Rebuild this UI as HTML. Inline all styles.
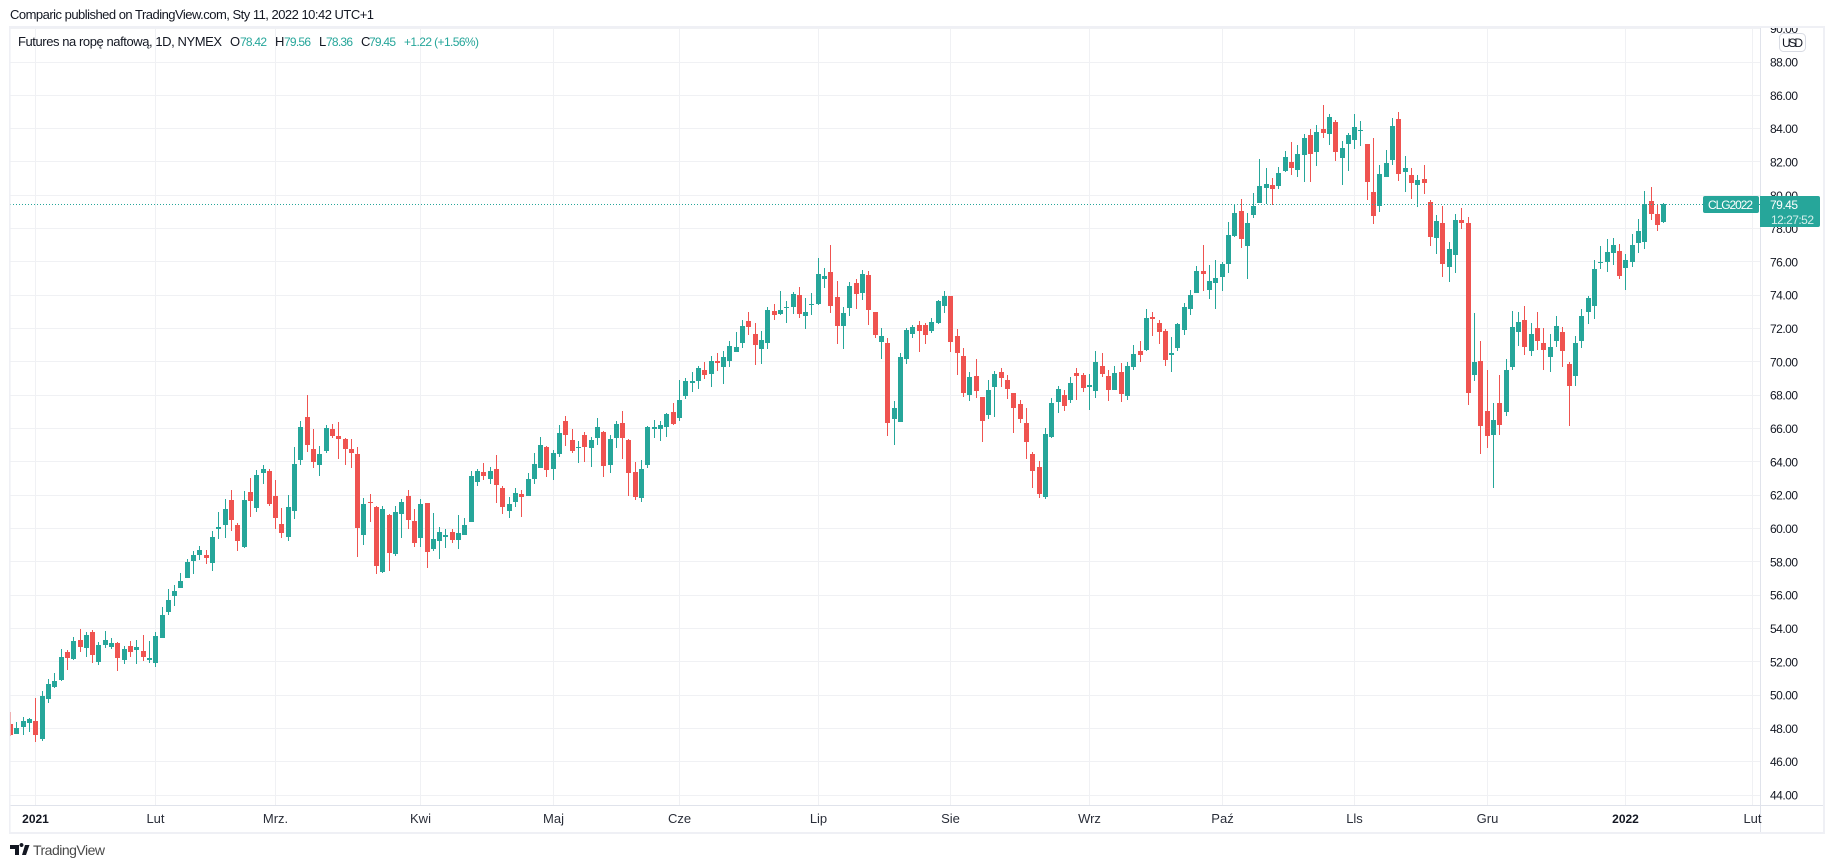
<!DOCTYPE html>
<html lang="pl">
<head>
<meta charset="utf-8">
<title>Futures na ropę naftową, 1D, NYMEX</title>
<style>
html,body{margin:0;padding:0;background:#fff;width:1834px;height:868px;overflow:hidden}
svg{display:block;font-family:"Liberation Sans","DejaVu Sans",sans-serif}
text{white-space:pre}
</style>
</head>
<body>
<svg id="chart" xmlns="http://www.w3.org/2000/svg" width="1834" height="868" viewBox="0 0 1834 868">
  <defs>
    <clipPath id="plot-clip"><rect x="10" y="28" width="1750" height="777"/></clipPath>
    <clipPath id="axis-clip"><rect x="1761" y="28" width="62" height="777"/></clipPath>
  </defs>
  <rect x="0" y="0" width="1834" height="868" fill="#ffffff"/>
  <text x="10" y="19" font-size="13" fill="#131722" textLength="364">Comparic published on TradingView.com, Sty 11, 2022 10:42 UTC+1</text>
  <g id="grid" clip-path="url(#plot-clip)"></g>
  <g id="candles" clip-path="url(#plot-clip)"></g>
  <line id="last-line" x1="10" x2="1760" stroke="#26a69a" stroke-width="1" stroke-dasharray="1 2"/>
  <rect x="1760" y="28" width="1" height="804" fill="#e0e3eb"/>
  <rect x="10" y="805" width="1813" height="1" fill="#e0e3eb"/>
  <g id="price-axis" clip-path="url(#axis-clip)"></g>
  <g id="time-axis"></g>
  <g fill="#eff0f5">
    <rect x="9" y="26" width="1815" height="2"/>
    <rect x="9" y="26" width="1" height="808"/>
    <rect x="10" y="26" width="1" height="808" fill-opacity="0.6"/>
    <rect x="1823" y="26" width="2" height="808"/>
    <rect x="9" y="832" width="1816" height="2"/>
  </g>
  <g font-size="13">
    <text x="18" y="46" fill="#131722" textLength="204">Futures na ropę naftową, 1D, NYMEX</text>
    <text x="230" y="46" fill="#131722">O</text>
    <text x="240" y="46" font-size="12" fill="#26a69a" textLength="27">78.42</text>
    <text x="275" y="46" fill="#131722">H</text>
    <text x="284" y="46" font-size="12" fill="#26a69a" textLength="27">79.56</text>
    <text x="319" y="46" fill="#131722">L</text>
    <text x="326" y="46" font-size="12" fill="#26a69a" textLength="27">78.36</text>
    <text x="361" y="46" fill="#131722">C</text>
    <text x="369" y="46" font-size="12" fill="#26a69a" textLength="27">79.45</text>
    <text x="404" y="46" font-size="12" fill="#26a69a" textLength="75">+1.22 (+1.56%)</text>
  </g>
  <g>
    <rect x="1779.5" y="33.5" width="26" height="18" rx="4" fill="#ffffff" stroke="#d8dbe3"/>
    <text x="1792.5" y="47" font-size="12" fill="#131722" text-anchor="middle" textLength="21">USD</text>
  </g>
  <g>
    <rect x="1703" y="196" width="56" height="17" rx="2" fill="#26a69a"/>
    <text x="1708" y="209" font-size="12" fill="#ffffff" textLength="45">CLG2022</text>
    <path d="M1760 196H1818a2 2 0 0 1 2 2V225a2 2 0 0 1-2 2H1760Z" fill="#26a69a"/>
    <text x="1770" y="209" font-size="12" fill="#ffffff" textLength="28">79.45</text>
    <text x="1771" y="224" font-size="12" fill="#d4eeeb" textLength="43">12:27:52</text>
  </g>
  <g>
    <path d="M10 845H19V855H15V849H10ZM24 855 L27 845H29.5L26 855ZM19.5 845a2 2 0 1 1 0 .01ZM22 855 L25 845H27L24 855Z" fill="#131722"/>
    <text x="33" y="855" font-size="14" fill="#4a4a4a" textLength="72">TradingView</text>
  </g>
</svg>
<script>
const opens = [
48.27,47.67,48.09,48.33,48.45,47.37,49.77,50.49,50.91,52.59,
52.17,53.31,52.83,53.79,51.99,53.01,52.89,53.13,52.11,52.95,
52.71,52.65,52.11,51.93,53.43,54.99,55.95,56.43,57.03,58.05,
58.41,58.41,57.93,59.97,60.21,61.71,60.21,58.89,62.19,61.23,
63.33,63.45,61.95,60.27,59.49,61.05,64.11,66.69,64.77,63.81,
64.65,65.97,65.55,65.37,64.77,64.47,59.61,61.59,61.29,57.39,
60.81,58.47,60.87,61.95,60.45,59.43,61.53,58.77,59.25,59.49,
59.79,59.31,59.61,60.39,62.79,63.39,62.97,63.57,62.43,61.05,
61.59,62.07,61.95,62.97,63.63,64.89,63.57,64.47,66.45,65.31,
64.83,65.61,64.83,65.43,65.79,63.81,65.43,66.33,65.31,63.39,
61.83,63.81,65.97,65.97,66.09,66.99,66.63,67.95,68.73,68.85,
69.51,69.27,70.05,69.70,70.06,70.60,71.14,72.46,71.68,70.78,
71.14,73.06,72.88,73.24,73.30,74.02,72.76,73.42,73.48,74.98,
75.40,73.90,72.16,73.24,74.74,74.14,75.22,73.00,71.20,71.14,
66.58,66.40,70.18,71.68,72.22,72.22,71.86,72.34,73.36,73.96,
71.56,70.36,68.02,69.16,67.90,66.82,68.50,69.40,68.92,68.14,
67.48,66.34,64.48,63.70,61.90,65.50,67.60,68.02,67.72,69.34,
69.22,68.50,68.26,69.76,69.16,68.32,69.40,67.96,69.70,70.66,
70.72,72.70,72.34,71.86,70.42,70.84,71.92,73.18,74.14,75.46,
74.32,74.74,75.10,75.88,77.56,79.06,76.96,78.82,79.54,80.44,
80.62,80.56,81.46,82.00,81.52,82.42,83.62,82.60,83.98,83.68,
84.40,82.24,83.08,83.32,83.86,83.08,80.20,79.36,81.10,82.12,
84.58,81.40,81.22,80.62,80.98,79.60,77.44,78.34,75.70,76.42,
78.52,78.34,69.22,70.06,67.06,65.62,67.54,67.00,69.70,71.80,
72.52,70.66,72.04,71.14,70.30,71.26,71.80,69.88,69.16,71.26,
73.00,73.36,75.94,76.00,76.54,76.66,75.64,76.00,77.14,77.20,
79.66,78.88,78.42];
const highs = [
48.99,48.39,48.69,48.63,49.83,50.25,50.97,51.33,52.77,52.71,
53.49,53.97,53.79,53.91,53.19,53.85,53.43,53.19,52.95,53.25,
53.31,53.61,53.25,53.79,55.29,56.37,56.61,57.33,58.17,58.65,
58.95,58.71,59.85,60.99,61.77,62.31,60.33,62.25,63.03,63.51,
63.81,63.57,62.91,61.23,62.01,64.89,66.45,68.01,65.97,64.95,
66.21,66.27,66.39,65.43,65.37,64.89,61.83,62.07,61.35,61.35,
60.87,61.35,61.77,62.31,61.17,61.77,61.53,60.93,60.09,59.97,
59.97,60.81,60.63,63.45,63.57,63.93,63.69,64.41,62.55,61.89,
62.43,62.31,63.33,64.53,65.49,64.95,64.71,66.21,66.75,65.97,
65.25,65.79,65.49,66.63,65.85,65.61,66.45,67.05,65.37,63.99,
64.11,66.15,66.51,66.45,66.93,67.53,68.91,69.03,69.39,69.75,
69.99,70.35,70.55,70.66,71.26,71.80,72.52,73.00,72.34,71.86,
73.30,73.48,74.26,73.66,74.20,74.50,73.84,74.14,76.24,75.64,
77.02,74.86,73.30,74.80,74.98,75.52,75.46,73.00,72.04,71.44,
67.66,70.54,72.04,72.22,72.46,72.34,72.64,73.72,74.26,73.96,
71.98,70.84,69.40,70.18,67.90,68.92,69.46,69.64,69.22,68.14,
67.72,67.24,64.60,64.06,66.04,67.84,68.56,68.32,69.10,69.64,
69.34,69.28,70.66,70.54,69.52,69.76,69.94,70.00,71.02,71.26,
73.18,73.00,72.52,71.98,71.50,72.34,73.54,74.32,75.76,77.00,
75.82,76.12,76.00,78.40,79.48,79.78,78.94,80.14,82.18,81.64,
81.04,81.70,82.66,83.20,83.02,83.68,83.98,84.22,85.42,84.88,
84.52,83.26,83.74,84.88,84.46,83.08,83.44,81.82,82.72,84.64,
85.00,82.36,81.64,81.22,81.82,79.72,78.82,79.36,77.20,78.88,
79.24,78.70,72.94,71.26,69.52,67.54,69.22,70.18,73.06,73.00,
73.36,72.34,73.00,72.04,71.68,72.76,72.10,70.00,71.56,73.18,
73.96,76.12,76.96,77.38,77.44,77.08,76.48,77.68,78.58,80.26,
80.50,79.42,79.56];
const lows = [
47.55,47.67,47.61,47.79,47.19,47.25,49.53,50.43,50.85,51.51,
52.11,52.59,52.29,51.93,51.81,52.83,52.77,51.45,51.87,52.29,
51.87,52.05,51.93,51.69,53.43,54.81,55.35,56.43,57.03,57.27,
58.11,57.87,57.45,59.37,59.43,59.85,58.65,58.83,60.69,60.99,
62.67,61.35,59.97,59.43,59.25,60.57,63.81,64.59,63.63,63.15,
64.53,65.43,64.17,63.81,63.63,58.29,59.01,60.39,57.27,57.33,
57.45,58.35,59.43,59.97,58.89,58.89,57.63,58.65,58.17,58.83,
59.13,58.77,59.61,60.39,62.55,62.91,62.67,61.53,60.87,60.63,
61.29,60.69,61.95,62.67,63.63,63.09,62.91,64.29,64.95,64.53,
63.93,63.99,63.69,65.01,63.09,63.33,64.83,64.17,61.95,61.71,
61.59,63.63,65.43,65.25,65.49,66.21,66.45,67.77,68.19,68.37,
68.97,68.49,69.45,68.68,69.70,70.60,70.84,71.62,69.82,69.88,
70.78,72.52,72.82,72.34,72.88,72.64,71.98,72.82,73.42,74.44,
72.94,71.08,70.78,72.76,73.18,73.72,72.22,71.44,70.18,65.56,
65.02,66.40,69.88,71.44,70.60,71.08,71.74,72.28,72.94,70.60,
69.22,67.90,67.66,67.84,65.20,66.58,66.70,68.50,67.78,65.74,
66.34,64.18,62.44,61.84,61.78,65.44,66.94,67.06,67.54,67.72,
68.20,67.12,67.84,69.10,67.66,68.32,67.60,67.72,69.52,70.00,
70.66,71.56,71.08,69.76,69.40,70.66,71.62,72.82,74.14,74.26,
73.78,73.18,74.26,75.34,77.50,76.84,74.98,78.64,79.54,79.48,
79.42,80.38,81.40,81.22,81.10,80.80,80.80,81.76,83.44,83.02,
82.06,80.62,81.46,82.78,82.96,79.72,78.28,79.00,81.10,81.82,
80.86,80.20,79.78,79.30,80.08,76.96,76.48,75.10,74.80,75.34,
77.98,67.42,68.86,64.48,64.84,62.44,65.62,66.76,69.52,70.96,
70.42,70.36,70.72,69.52,69.40,70.90,69.70,66.16,68.56,70.84,
72.28,72.58,75.58,75.40,75.82,74.98,74.32,75.70,76.54,76.78,
78.52,77.86,78.36];
const closes = [
47.61,48.03,48.45,48.57,47.61,49.95,50.67,50.85,52.29,52.23,
53.25,52.89,53.61,52.41,53.01,53.31,53.13,52.23,52.77,52.59,
52.89,52.29,52.23,53.55,54.81,55.71,56.25,56.85,57.99,58.41,
58.71,58.23,59.49,60.09,61.17,60.51,59.25,61.71,61.65,63.21,
63.57,61.47,60.63,59.73,61.29,63.87,66.09,65.01,63.99,64.47,
66.03,65.55,65.37,64.77,64.53,60.03,61.47,61.53,57.75,61.17,
58.53,60.99,61.59,60.51,59.13,61.47,58.59,59.37,59.79,59.61,
59.31,59.73,60.21,63.15,63.45,63.15,63.45,62.61,61.29,61.47,
62.13,61.89,62.97,63.87,65.01,63.51,64.53,65.73,65.61,64.65,
64.89,64.89,65.31,66.09,63.75,65.37,66.27,65.43,63.33,61.89,
63.57,66.09,66.09,66.21,66.87,66.27,67.71,68.85,68.85,69.63,
69.21,70.05,69.93,70.30,70.96,70.90,72.16,72.10,71.02,71.32,
73.12,72.82,73.12,73.30,74.08,72.88,73.00,73.48,75.28,75.16,
73.36,72.16,72.94,74.56,74.08,75.28,73.12,71.62,71.56,66.34,
67.24,70.30,71.92,72.10,71.86,71.62,72.40,73.66,73.96,71.20,
70.54,68.14,69.10,68.26,66.46,68.32,69.28,69.04,68.38,67.24,
66.58,65.20,63.46,62.08,65.68,67.54,68.38,67.36,68.74,69.16,
68.44,68.62,70.00,69.28,68.32,69.34,68.08,69.76,70.48,70.42,
72.64,72.58,71.80,70.12,70.54,72.28,73.30,74.02,75.46,75.28,
74.86,75.04,75.88,77.62,78.94,77.38,78.34,79.36,80.56,80.68,
80.38,81.34,82.30,81.64,82.48,83.44,82.48,83.80,83.74,84.70,
82.60,82.84,83.62,84.10,83.92,80.80,78.76,81.28,81.94,84.16,
81.28,81.64,80.74,80.92,80.74,77.50,78.46,75.88,76.78,78.52,
78.34,68.14,70.00,66.16,65.56,66.52,66.22,69.52,72.10,72.40,
70.90,71.68,71.26,70.72,70.90,72.16,70.66,68.56,71.14,72.76,
73.84,75.58,76.00,76.60,77.02,75.16,76.12,77.02,77.86,79.48,
78.88,78.22,79.45];
const priceTicks = [44,46,48,50,52,54,56,58,60,62,64,66,68,70,72,74,76,78,80,82,84,86,88,90];
const timeTickLabels = ['2021','Lut','Mrz.','Kwi','Maj','Cze','Lip','Sie','Wrz','Paź','Lls','Gru','2022','Lut'];
const timeTickBars = [4,23,42,65,86,106,128,149,171,192,213,234,256,276];
const lastPrice = 79.45;

const NS = 'http://www.w3.org/2000/svg';
const UP = '#26a69a';
const DOWN = '#ef5350';
function yScale(price){ return 62 + (88 - price) * 16.66; }
function xScale(bar){ return Math.floor(10.6 + 6.31 * bar); }

const gridGroup = document.getElementById('grid');
const candleGroup = document.getElementById('candles');
const priceAxis = document.getElementById('price-axis');
const timeAxis = document.getElementById('time-axis');

function makeRect(parent, x, y, w, h, fill){
  const r = document.createElementNS(NS, 'rect');
  r.setAttribute('x', x);
  r.setAttribute('y', y);
  r.setAttribute('width', w);
  r.setAttribute('height', h);
  r.setAttribute('fill', fill);
  parent.appendChild(r);
  return r;
}
function makeText(parent, x, y, str, size, fill){
  const t = document.createElementNS(NS, 'text');
  t.setAttribute('x', x);
  t.setAttribute('y', y);
  t.setAttribute('font-size', size);
  t.setAttribute('fill', fill);
  t.textContent = str;
  parent.appendChild(t);
  return t;
}

priceTicks.forEach(function(p){
  const yy = yScale(p);
  const line = makeRect(gridGroup, 10, Math.floor(yy), 1750, 1, '#f0f1f4');
  
  
  const label = makeText(priceAxis, 1770, yy + 4.5, p.toFixed(2), 12, '#131722');
  label.setAttribute('textLength', '28');
  
  
});

timeTickLabels.forEach(function(label, k){
  const xx = xScale(timeTickBars[k]);
  const line = makeRect(gridGroup, xx, 28, 1, 777, '#f0f1f4');
  
  
  const isYear = /^\d+$/.test(label);
  const t = makeText(timeAxis, xx + 0.5, 823, label, isYear ? 12 : 13, isYear ? '#131722' : '#2a2e39');
  t.setAttribute('text-anchor', 'middle');
  if (isYear) t.setAttribute('font-weight', '700');
  
  
});

opens.forEach(function(o, i){
  const c = closes[i];
  const color = c >= o ? UP : DOWN;
  const col = xScale(i);
  const wickTop = Math.round(yScale(highs[i]));
  const wickBot = Math.round(yScale(lows[i]));
  const wick = makeRect(candleGroup, col, wickTop, 1, Math.max(1, wickBot - wickTop), color);
  
  
  const bodyTop = Math.round(yScale(Math.max(o, c)));
  const bodyBot = Math.round(yScale(Math.min(o, c)));
  const body = makeRect(candleGroup, col - 2, bodyTop, 5, Math.max(1, bodyBot - bodyTop), color);
  
  
});

const lastLine = document.getElementById('last-line');
const lastY = Math.floor(yScale(lastPrice)) + 0.5;
lastLine.setAttribute('y1', lastY);
lastLine.setAttribute('y2', lastY);
</script>
</body>
</html>
